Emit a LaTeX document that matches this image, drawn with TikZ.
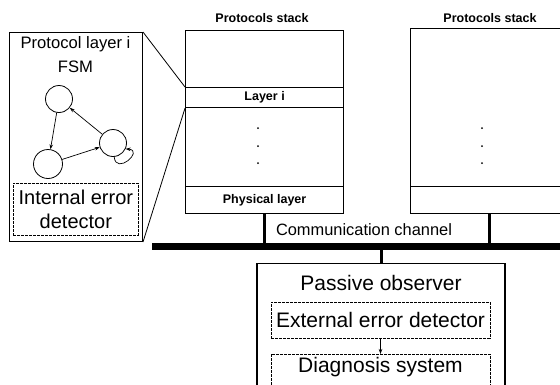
\documentclass[tikz,border=0pt]{standalone}
\usepackage{fontspec}
\setmainfont{Liberation Sans}
\usetikzlibrary{arrows.meta}
\newcommand\stackfont{\fontsize{12.5}{14}\selectfont\bfseries}
\newcommand\bigfont{\fontsize{21}{25}\selectfont}
\newcommand\midfont{\fontsize{20}{24}\selectfont}
\newcommand\titlefont{\fontsize{16.6}{24}\selectfont}
\newcommand\chanfont{\fontsize{16.4}{18}\selectfont}
\begin{document}
\begin{tikzpicture}[x=1pt,y=-1pt,
  box/.style={draw, line width=1.2pt, inner sep=0pt, anchor=north west},
  dbox/.style={draw, line width=0.7pt, dash pattern=on 3pt off 1pt, inner sep=0pt},
  arr/.style={-{Stealth[length=5pt,width=3.5pt]}, line width=0.7pt},
  state/.style={circle, draw, line width=0.8pt, inner sep=0pt},
  drop/.style={line width=3pt},
  dot/.style={circle, fill, inner sep=0pt, minimum size=2pt}]
\fill[white] (0,0) rectangle (560,384);
\useasboundingbox (0,0) rectangle (560,384);
\clip (0,0) rectangle (560,384);

% left protocol stack
\node[box, minimum width=158pt, minimum height=183pt] (lstack) at (185,30) {};
\node[box, minimum width=158pt, minimum height=20pt, font=\stackfont] (layeri) at (185,87) {Layer i};
\node[box, minimum width=158pt, minimum height=27pt, font=\stackfont] (lphys) at (185,186) {Physical layer};
\node[font=\stackfont] (llabel) at (262,18) {Protocols stack};
\foreach \y/\n in {128/a,146/b,163/c} \node[dot] (ld\n) at (258,\y) {};

% right protocol stack
\node[box, minimum width=200pt, minimum height=185pt] (rstack) at (410,28) {};
\node[box, minimum width=200pt, minimum height=27pt] (rphys) at (410,186) {};
\node[font=\stackfont] (rlabel) at (490,18) {Protocols stack};
\foreach \y/\n in {128/a,146/b,163/c} \node[dot] (rd\n) at (482,\y) {};
\coordinate (rdrop) at (489,213);

% communication channel
\coordinate (busL) at (152,246.5);
\coordinate (busR) at (575,246.5);
\draw[line width=7pt] (busL) -- (busR);
\draw[drop] (lphys.south) -- (lphys.south |- busL);
\draw[drop] (rdrop) -- (rdrop |- busL);
\node[font=\chanfont] (chan) at (364,230) {Communication channel};

% passive observer
\node[draw, line width=1.4pt, anchor=north, minimum width=248pt, inner xsep=0pt, inner ysep=0pt,
      text height=27pt, text depth=140pt, font=\bigfont] (obs) at (381,263) {Passive observer};
\draw[drop] (obs.north |- busL) -- (obs.north);
\node[dbox, anchor=north, minimum width=219pt, minimum height=36pt, text height=15pt, text depth=0pt,
      font=\bigfont] (ext) at (380.5,302) {External error detector};
\node[dbox, anchor=north, minimum width=219pt, text height=18pt, text depth=40pt,
      font=\bigfont] (diag) at (380.5,354) {Diagnosis system};
\draw[arr] (ext) -- (diag);

% magnified layer: FSM and internal detector
\node[draw, line width=1pt, anchor=north west, minimum width=133pt, minimum height=209pt, inner sep=0pt] (fsm) at (9,32) {};
\node[font=\titlefont, align=center] (fsmtitle) at (75.5,55) {Protocol layer i\\FSM};
\node[dbox, anchor=north west, minimum width=125pt, minimum height=52pt, align=center, font=\midfont] (ied) at (13,183) {Internal error\\detector};
\draw[line width=0.8pt] (fsm.north east) -- (layeri.north west);
\draw[line width=0.8pt] (fsm.south east) -- (layeri.south west);

\node[state, minimum size=27pt] (s1) at (59,99) {};
\node[state, minimum size=29pt] (s2) at (48,164) {};
\node[state, minimum size=27pt] (s3) at (113,143) {};
\draw[arr] (s1) -- (s2);
\draw[arr] (s2) -- (s3);
\draw[arr] (s3) -- (s1);
\draw[arr] (s3.-85) .. controls +(-85:19pt) and +(-5:19pt) .. (s3.-25);
\end{tikzpicture}
\end{document}
